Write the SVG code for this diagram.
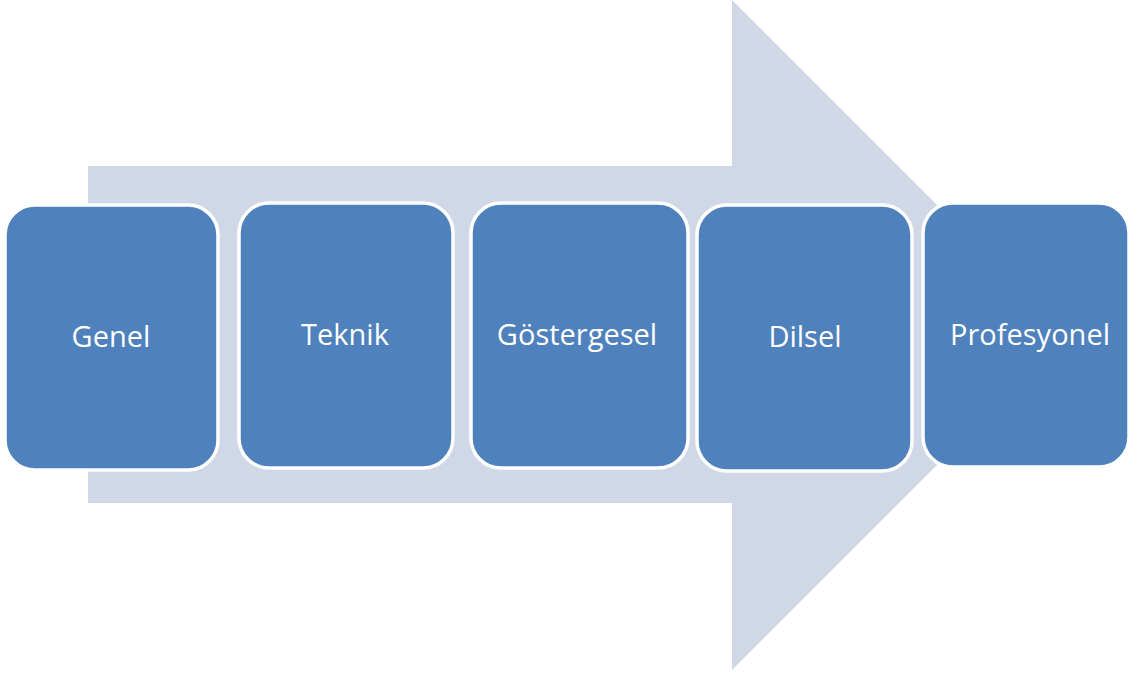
<svg xmlns="http://www.w3.org/2000/svg" width="1131" height="679" viewBox="0 0 1131 679">
<style>
.box{fill:#4F81BD;stroke:#FFFFFF;stroke-width:3.5}
.lbl{fill:#FFFFFF;font-family:"Open Sans","Liberation Sans",sans-serif;font-size:29px;text-anchor:middle}
</style>
<rect width="1131" height="679" fill="#FFFFFF"/>
<g id="arrow">
<polygon points="88,166 732,166 732,0 1067,335 732,670 732,503 88,503" fill="#D0D8E8"/>
</g>
<g id="connectors"></g>
<g id="node-genel">
<rect class="box" x="5" y="205" width="213" height="265" rx="30"/>
<text class="lbl" x="111" y="347">Genel</text>
</g>
<g id="node-teknik">
<rect class="box" x="239" y="203" width="214" height="265" rx="30"/>
<text class="lbl" x="345" y="345">Teknik</text>
</g>
<g id="node-gostergesel">
<rect class="box" x="471" y="203" width="217" height="265" rx="30"/>
<text class="lbl" x="577" y="345">Göstergesel</text>
</g>
<g id="node-dilsel">
<rect class="box" x="697" y="205" width="215" height="266" rx="30"/>
<text class="lbl" x="805" y="347">Dilsel</text>
</g>
<g id="node-profesyonel">
<rect class="box" x="923" y="203" width="206" height="264" rx="30"/>
<text class="lbl" x="1030" y="345">Profesyonel</text>
</g>
</svg>
